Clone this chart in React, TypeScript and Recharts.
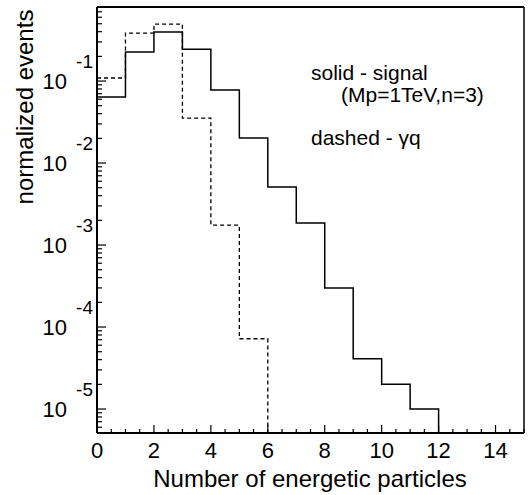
import { LineChart, Line, XAxis, YAxis, ReferenceLine } from "recharts";

// empty bin stand-in (log axis cannot show 0) -- falls below the axis and is clipped
const EMPTY = 1e-9;

const BIN_LOW_EDGE = [0, 1, 2, 3, 4, 5, 6, 7, 8, 9, 10, 11, 12];
const SIGNAL = [0.064, 0.226, 0.396, 0.245, 0.078, 0.0202, 0.0051, 0.00186, 3.0e-4, 4.1e-5, 2.0e-5, 1.0e-5, EMPTY];
const GAMMA_Q = [0.109, 0.385, 0.495, 0.0354, 0.00175, 7.2e-5, EMPTY, null, null, null, null, null, null];

const X_DOMAIN = [0, 15];
const X_TICKS = [0, 0.5, 1, 1.5, 2, 2.5, 3, 3.5, 4, 4.5, 5, 5.5, 6, 6.5, 7, 7.5, 8, 8.5, 9, 9.5, 10, 10.5, 11, 11.5, 12, 12.5, 13, 13.5, 14, 14.5, 15];
const X_LABELS = [0, 2, 4, 6, 8, 10, 12, 14];

const Y_DOMAIN = [5.1e-6, 0.8];
const Y_MAJOR = [1e-5, 1e-4, 1e-3, 1e-2, 1e-1];
const Y_EXPONENTS = ["-5", "-4", "-3", "-2", "-1"];

// log minor ticks 2..9 x 10^k inside the visible range
const yMinor: number[] = [];
for (let k = -6; k <= -1; k++) {
  for (let m = 2; m <= 9; m++) {
    const v = m * Math.pow(10, k);
    if (v > Y_DOMAIN[0] && v < Y_DOMAIN[1]) yMinor.push(v);
  }
}
const Y_TICKS = [...Y_MAJOR, ...yMinor].sort((a, b) => a - b);

const data = BIN_LOW_EDGE.map((n, i) => ({ n, signal: SIGNAL[i], gq: GAMMA_Q[i] }));

const FONT = "'Liberation Sans', Arial, Helvetica, sans-serif";

function XTick(props: any) {
  const { x, y, payload } = props;
  const v = payload.value;
  const major = X_LABELS.includes(v);
  return (
    <g>
      <line x1={x} x2={x} y1={y} y2={y - (major ? 8 : 4)} stroke="#000" strokeWidth={1.2} />
      {major && (
        <text x={x} y={y + 25} textAnchor="middle" fontSize={22} fontFamily={FONT} fill="#000">
          {v}
        </text>
      )}
    </g>
  );
}

function YTick(props: any) {
  const { x, y, payload } = props;
  const idx = Y_MAJOR.indexOf(payload.value);
  const major = idx >= 0;
  return (
    <g>
      <line x1={x} x2={x + (major ? 9 : 5)} y1={y} y2={y} stroke="#000" strokeWidth={1.2} />
      {major && (
        <>
          <text x={x - 30} y={y + 8} textAnchor="end" fontSize={22} fontFamily={FONT} fill="#000">
            10
          </text>
          <text x={x - 4} y={y - 13} textAnchor="end" fontSize={19} fontFamily={FONT} fill="#000">
            {Y_EXPONENTS[idx]}
          </text>
        </>
      )}
    </g>
  );
}

export default function App() {
  return (
    <div style={{ position: "absolute", left: 0, top: 0, background: "#fff" }}>
      <LineChart
        width={528}
        height={495}
        data={data}
        margin={{ top: 7, right: 4, left: 0, bottom: 0 }}
      >
        <XAxis
          dataKey="n"
          type="number"
          domain={X_DOMAIN}
          ticks={X_TICKS}
          interval={0}
          allowDataOverflow
          height={62}
          tickSize={0}
          tickMargin={0}
          tickLine={false}
          axisLine={{ stroke: "#000", strokeWidth: 2 }}
          tick={<XTick />}
        />
        <YAxis
          type="number"
          scale="log"
          domain={Y_DOMAIN}
          ticks={Y_TICKS}
          interval={0}
          allowDataOverflow
          width={97}
          tickSize={0}
          tickMargin={0}
          tickLine={false}
          axisLine={{ stroke: "#000", strokeWidth: 2 }}
          tick={<YTick />}
        />
        <ReferenceLine y={Y_DOMAIN[1]} stroke="#000" strokeWidth={2} />
        <ReferenceLine x={X_DOMAIN[1]} stroke="#000" strokeWidth={1.5} />
        <Line
          type="stepAfter"
          dataKey="gq"
          stroke="#000"
          strokeWidth={1.3}
          strokeDasharray="4 3"
          dot={false}
          activeDot={false}
          connectNulls={false}
          isAnimationActive={false}
        />
        <Line
          type="stepAfter"
          dataKey="signal"
          stroke="#000"
          strokeWidth={1.5}
          dot={false}
          activeDot={false}
          isAnimationActive={false}
        />
        <text x={311} y={80} fontSize={21} fontFamily={FONT} fill="#000">
          solid - signal
        </text>
        <text x={341} y={102} fontSize={21} fontFamily={FONT} fill="#000">
          (Mp=1TeV,n=3)
        </text>
        <text x={311} y={145} fontSize={21} fontFamily={FONT} fill="#000">
          dashed - γq
        </text>
        <text
          transform="translate(33,107) rotate(-90)"
          textAnchor="middle"
          fontSize={24}
          fontFamily={FONT}
          fill="#000"
        >
          normalized events
        </text>
        <text x={310} y={487} textAnchor="middle" fontSize={24} fontFamily={FONT} fill="#000">
          Number of energetic particles
        </text>
      </LineChart>
    </div>
  );
}
